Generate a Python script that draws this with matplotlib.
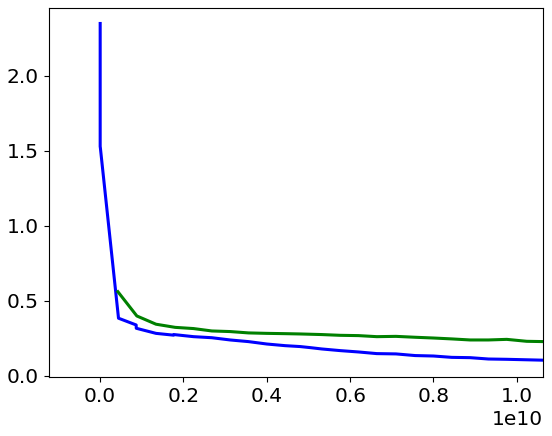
import numpy as np
from matplotlib import pyplot as plt

# training loss (blue), x in units of 1e10
train_x = [0.0, 0.0, 0.0005, 0.044, 0.0864, 0.0866, 0.134, 0.176, 0.177, 0.224, 0.268,
           0.312, 0.356, 0.40, 0.444, 0.48, 0.504, 0.532, 0.576, 0.62, 0.664, 0.71,
           0.756, 0.80, 0.844, 0.888, 0.932, 0.976, 1.066]
train_y = [2.35, 1.53, 1.52, 0.385, 0.34, 0.318, 0.284, 0.272, 0.276, 0.262, 0.255,
           0.240, 0.229, 0.213, 0.202, 0.196, 0.189, 0.180, 0.169, 0.160, 0.149, 0.147,
           0.136, 0.133, 0.124, 0.122, 0.113, 0.111, 0.105]

# eval loss (green)
eval_x = [0.0424, 0.088, 0.134, 0.18, 0.224, 0.268, 0.312, 0.356, 0.40, 0.444, 0.48,
          0.532, 0.576, 0.62, 0.664, 0.71, 0.756, 0.80, 0.844, 0.888, 0.932, 0.976,
          1.024, 1.066]
eval_y = [0.562, 0.40, 0.345, 0.324, 0.316, 0.300, 0.296, 0.287, 0.284, 0.282, 0.280,
          0.276, 0.271, 0.269, 0.262, 0.264, 0.258, 0.253, 0.247, 0.240, 0.240, 0.244,
          0.231, 0.229]

SCALE = 1e10
plt.rcParams['font.size'] = 14.5

fig = plt.figure(figsize=(5.52, 4.36), dpi=100)
ax = fig.add_axes([0.0879, 0.1353, 0.8958, 0.8456])
ax.plot(np.array(train_x) * SCALE, train_y, color='blue', lw=2.2)
ax.plot(np.array(eval_x) * SCALE, eval_y, color='green', lw=2.2)
ax.set_xlim(-0.124 * SCALE, 1.063 * SCALE)
ax.set_ylim(-0.007, 2.451)
ax.set_yticks([0.0, 0.5, 1.0, 1.5, 2.0])

fig.savefig('out.png', dpi=100)
